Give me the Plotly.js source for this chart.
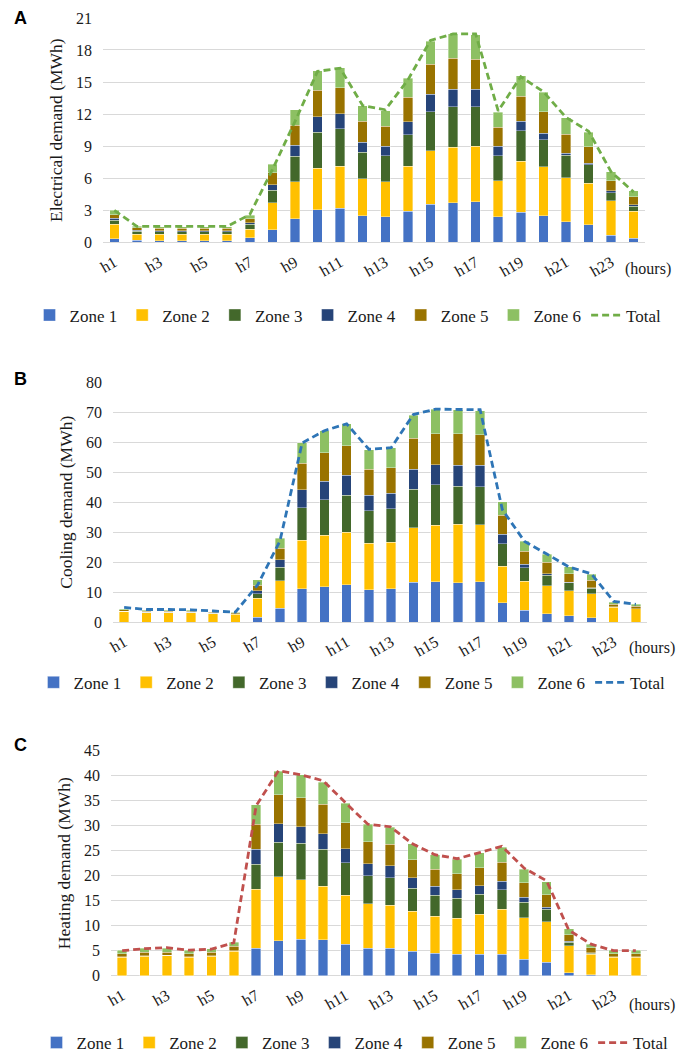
<!DOCTYPE html>
<html>
<head>
<meta charset="utf-8">
<script src="https://cdn.plot.ly/plotly-3.0.1.min.js"></script>
<style>html,body{margin:0;padding:0;background:#fff;}#chart{width:678px;height:1061px;}</style>
</head>
<body>
<div id="chart"></div>
<script>
// ---------- data ----------
const hours = ["h1","h2","h3","h4","h5","h6","h7","h8","h9","h10","h11","h12","h13","h14","h15","h16","h17","h18","h19","h20","h21","h22","h23","h24"];
const tickHours = ["h1","h3","h5","h7","h9","h11","h13","h15","h17","h19","h21","h23"];
const zoneNames = ["Zone 1","Zone 2","Zone 3","Zone 4","Zone 5","Zone 6"];

// A: Electrical demand (MWh)
const elecZone1 = [0.34,0.19,0.17,0.17,0.17,0.17,0.43,1.18,2.2,3.04,3.2,2.49,2.39,2.89,3.57,3.7,3.79,2.39,2.8,2.49,1.93,1.65,0.68,0.4];
const elecZone2 = [1.34,0.59,0.6,0.6,0.6,0.6,0.81,2.52,3.49,3.89,3.94,3.44,3.3,4.25,5.0,5.18,5.19,3.39,4.78,4.59,4.1,3.88,3.2,2.52];
const elecZone3 = [0.40,0.24,0.22,0.22,0.22,0.22,0.44,1.18,2.36,3.38,3.48,2.52,2.42,2.93,3.64,3.79,3.69,2.33,2.86,2.52,2.11,1.74,0.78,0.47];
const elecZone4 = [0.16,0.1,0.1,0.1,0.1,0.1,0.15,0.53,1.05,1.46,1.4,0.93,0.9,1.21,1.65,1.65,1.65,0.9,0.9,0.62,0.22,0.15,0.16,0.12];
const elecZone5 = [0.34,0.25,0.25,0.25,0.25,0.25,0.37,1.08,1.87,2.46,2.46,1.96,1.86,2.3,2.79,2.89,2.8,1.74,2.33,2.02,1.77,1.53,0.93,0.75];
const elecZone6 = [0.42,0.12,0.14,0.14,0.14,0.14,0.35,0.84,1.43,1.83,1.86,1.46,1.46,1.77,2.18,2.33,2.3,1.43,1.93,1.8,1.52,1.33,0.84,0.56];
const elecTotal = [3.0,1.5,1.5,1.5,1.5,1.5,2.6,6.8,11.3,16.0,16.3,12.8,12.4,15.2,18.9,19.5,19.5,12.3,15.5,14.1,11.7,10.4,6.6,4.7];

// B: Cooling demand (MWh)
const coolZone1 = [0,0,0,0,0,0,1.66,4.65,11.08,11.75,12.4,10.75,11.08,13.3,13.4,13.1,13.4,6.4,3.9,2.8,2.1,1.4,0,0];
const coolZone2 = [3.55,3.1,3.1,3.1,2.8,2.65,6.32,9.2,16.18,17.28,17.6,15.5,15.5,18.2,19.0,19.5,19.1,12.3,9.8,9.3,8.3,8.0,5.0,4.4];
const coolZone3 = [0.1,0.1,0.1,0.1,0.1,0.1,1.4,4.43,10.97,11.75,12.3,10.86,11.2,12.9,13.4,12.8,12.7,7.4,4.4,3.5,2.7,1.9,0.1,0.1];
const coolZone4 = [0,0,0,0,0,0,1.0,2.55,5.97,6.32,6.67,5.2,5.2,6.6,6.8,7.0,7.1,3.3,1.2,0.6,0.2,0.2,0,0];
const coolZone5 = [0.45,0.45,0.45,0.45,0.3,0.35,1.9,3.87,8.87,9.4,9.95,8.75,8.5,10.3,10.3,10.4,10.3,6.3,4.4,3.7,2.8,2.5,0.8,0.8];
const coolZone6 = [0.4,0.35,0.35,0.35,0.3,0.2,1.8,3.33,6.76,7.4,7.3,6.4,6.7,7.8,8.1,8.1,8.0,4.4,3.2,2.7,2.3,2.0,0.7,0.7];
const coolTotal = [4.9,4.2,4.2,4.1,3.7,3.3,12.4,27.0,59.8,63.9,66.2,57.7,58.2,69.3,71.1,71.0,70.9,37.5,26.9,22.7,18.4,16.1,6.9,5.9];

// C: Heating demand (MWh)
const heatZone1 = [0,0,0,0,0,0,5.5,7.0,7.3,7.2,6.3,5.5,5.5,4.9,4.45,4.3,4.3,4.3,3.25,2.65,0.55,0.2,0,0];
const heatZone2 = [3.7,3.9,4.05,3.7,3.9,4.9,11.8,12.8,11.9,10.7,9.8,8.9,8.6,8.0,7.45,7.2,8.0,9.0,8.35,8.15,5.45,4.1,3.7,3.7];
const heatZone3 = [0.05,0.05,0.05,0.05,0.05,0.05,5.0,6.9,7.3,7.4,6.5,5.6,5.5,4.6,4.2,4.0,4.0,3.9,3.1,2.5,0.7,0.2,0.05,0.05];
const heatZone4 = [0,0,0,0,0,0,3.0,3.7,3.3,3.1,2.8,2.4,2.4,2.1,1.75,1.7,1.7,1.7,1.0,0.4,0.15,0.05,0,0];
const heatZone5 = [0.6,0.7,0.6,0.6,0.7,0.95,5.0,5.8,5.8,5.9,5.2,4.4,4.3,3.6,3.4,3.2,3.6,3.8,2.9,2.5,1.35,1.0,0.6,0.6];
const heatZone6 = [0.7,0.8,0.8,0.7,0.7,0.8,3.9,4.7,4.6,4.4,3.9,3.5,3.4,3.2,2.95,2.9,3.0,3.0,2.7,2.6,1.2,0.7,0.7,0.7];
const heatTotal = [5.0,5.4,5.6,5.1,5.3,6.6,34.0,41.0,40.2,39.0,34.6,30.3,29.8,26.4,24.2,23.4,24.6,25.9,21.5,19.0,9.1,6.3,5.0,5.0];

// ---------- styling ----------
const zoneColors = ["#4472C4","#FFC000","#43682B","#264478","#997300","#8DC063"];
const serif = "Liberation Serif";
const textColor = "#1a1a1a";

const panels = [
  {zones:[elecZone1,elecZone2,elecZone3,elecZone4,elecZone5,elecZone6], total:elecTotal, lineColor:"#70AD47",
   xa:"x", ya:"y", legend:"legend", title:"Electrical demand (MWh)", range:[0,21], dtick:3},
  {zones:[coolZone1,coolZone2,coolZone3,coolZone4,coolZone5,coolZone6], total:coolTotal, lineColor:"#2E75B6",
   xa:"x2", ya:"y2", legend:"legend2", title:"Cooling demand (MWh)", range:[0,80], dtick:10},
  {zones:[heatZone1,heatZone2,heatZone3,heatZone4,heatZone5,heatZone6], total:heatTotal, lineColor:"#C0504D",
   xa:"x3", ya:"y3", legend:"legend3", title:"Heating demand (MWh)", range:[0,45], dtick:5}
];

const traces = [];
panels.forEach(p => {
  p.zones.forEach((vals, i) => {
    traces.push({type:"bar", x:hours, y:vals, name:zoneNames[i], xaxis:p.xa, yaxis:p.ya, legend:p.legend,
      marker:{color:zoneColors[i], line:{width:0.6, color:"rgba(255,255,255,0.6)"}}, hoverinfo:"x+y+name"});
  });
  traces.push({type:"scatter", mode:"lines", x:hours, y:p.total, name:"Total", xaxis:p.xa, yaxis:p.ya, legend:p.legend,
    line:{color:p.lineColor, width:2.8, dash:"7px,4px"}});
});

const H = 1061, W = 678;
const py = v => 1 - v / H;   // pixel row -> paper y
const px = v => v / W;       // pixel col -> paper x

function xAxis(domain, anchor) {
  return {domain:domain, anchor:anchor, type:"category", tickmode:"array", tickvals:tickHours, ticktext:tickHours,
    tickangle:-30, tickfont:{family:serif, size:16, color:textColor}, showgrid:false, showline:false, zeroline:false,
    ticks:"", ticklabelstandoff:7, fixedrange:true};
}
function yAxis(domain, anchor, p) {
  return {domain:domain, anchor:anchor, range:p.range, dtick:p.dtick, tick0:0, showgrid:true, gridcolor:"#D9D9D9", gridwidth:1,
    zeroline:true, zerolinecolor:"#D9D9D9", zerolinewidth:1.2, showline:false, ticks:"", ticklabelstandoff:10,
    tickfont:{family:serif, size:16, color:textColor},
    title:{text:p.title, font:{family:serif, size:17.5, color:textColor}, standoff:8}, fixedrange:true};
}
function legendAt(yPix, xCenter) {
  return {orientation:"h", x:px(xCenter), xanchor:"center", y:py(yPix), yanchor:"middle", traceorder:"normal",
    font:{family:serif, size:17, color:textColor}, itemwidth:30, bgcolor:"rgba(0,0,0,0)"};
}

const layout = {
  width:W, height:H, margin:{l:0, r:0, t:0, b:0}, paper_bgcolor:"#fff", plot_bgcolor:"#fff",
  font:{family:serif, size:16, color:textColor},
  barmode:"stack", bargap:0.58, showlegend:true, hovermode:"closest",
  xaxis: xAxis([px(103), px(645)], "y"),
  yaxis: yAxis([py(243.5), py(18)], "x", panels[0]),
  xaxis2: xAxis([px(113), px(647)], "y2"),
  yaxis2: yAxis([py(625), py(384.3)], "x2", panels[1]),
  xaxis3: xAxis([px(111), px(647)], "y3"),
  yaxis3: yAxis([py(980.3), py(754.3)], "x3", panels[2]),
  legend: legendAt(317, 348),
  legend2: legendAt(686, 352),
  legend3: legendAt(1048, 355),
  annotations: [
    {text:"<b>A</b>", x:px(12), y:py(18), xref:"paper", yref:"paper", xanchor:"left", yanchor:"middle", showarrow:false,
     font:{family:"Liberation Sans", size:18, color:"#000"}},
    {text:"<b>B</b>", x:px(12), y:py(381), xref:"paper", yref:"paper", xanchor:"left", yanchor:"middle", showarrow:false,
     font:{family:"Liberation Sans", size:18, color:"#000"}},
    {text:"<b>C</b>", x:px(12), y:py(749), xref:"paper", yref:"paper", xanchor:"left", yanchor:"middle", showarrow:false,
     font:{family:"Liberation Sans", size:18, color:"#000"}},
    {text:"(hours)", x:px(623), y:py(270), xref:"paper", yref:"paper", xanchor:"left", yanchor:"middle", showarrow:false,
     font:{family:serif, size:16, color:textColor}},
    {text:"(hours)", x:px(627), y:py(651), xref:"paper", yref:"paper", xanchor:"left", yanchor:"middle", showarrow:false,
     font:{family:serif, size:16, color:textColor}},
    {text:"(hours)", x:px(627), y:py(1010), xref:"paper", yref:"paper", xanchor:"left", yanchor:"middle", showarrow:false,
     font:{family:serif, size:16, color:textColor}}
  ]
};

Plotly.newPlot("chart", traces, layout, {displayModeBar:false, responsive:false});
</script>
</body>
</html>
